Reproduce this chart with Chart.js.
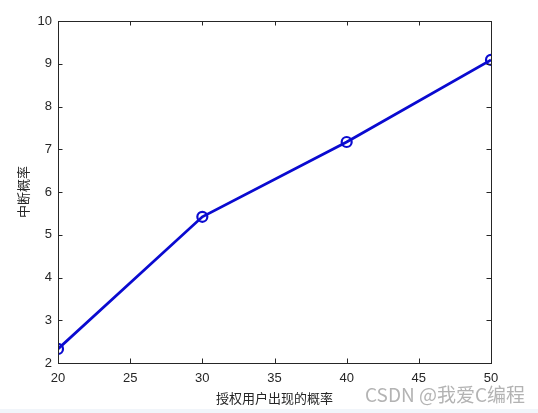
<!DOCTYPE html>
<html>
<head>
<meta charset="utf-8">
<script src="https://cdn.jsdelivr.net/npm/chart.js@4/dist/chart.umd.min.js"></script>
<style>
  html, body { margin: 0; padding: 0; background: #fff; }
  #wrap { width: 538px; height: 413px; position: relative; }
</style>
</head>
<body>
<div id="wrap"><canvas id="myChart"></canvas></div>
<script>
// data
const xValues = [20, 30, 40, 50];
const yValues = [2.33, 5.42, 7.17, 9.09];
const xTicks = [20, 25, 30, 35, 40, 45, 50];
const yTicks = [2, 3, 4, 5, 6, 7, 8, 9, 10];
const xTitle = '授权用户出现的概率';
const yTitle = '中断概率';
const watermark = 'CSDN @我爱C编程';

const tickFont = { family: "'Liberation Sans', Arial, sans-serif", size: 13 };
const cjkFont = "13px 'Noto Sans CJK SC', sans-serif";

// MATLAB-ish box with inward ticks on all four sides
const boxPlugin = {
  id: 'box',
  afterDraw(chart) {
    const { ctx, chartArea: a, scales } = chart;
    ctx.save();
    ctx.strokeStyle = '#262626';
    ctx.lineWidth = 1;
    ctx.strokeRect(Math.round(a.left) + 0.5, Math.round(a.top) + 0.5,
      Math.round(a.right - a.left), Math.round(a.bottom - a.top));
    ctx.beginPath();
    xTicks.forEach(v => {
      const x = Math.round(scales.x.getPixelForValue(v)) + 0.5;
      ctx.moveTo(x, a.bottom); ctx.lineTo(x, a.bottom - 4.5);
      ctx.moveTo(x, a.top); ctx.lineTo(x, a.top + 4.5);
    });
    yTicks.forEach(v => {
      const y = Math.round(scales.y.getPixelForValue(v)) + 0.5;
      ctx.moveTo(a.left, y); ctx.lineTo(a.left + 4.5, y);
      ctx.moveTo(a.right, y); ctx.lineTo(a.right - 4.5, y);
    });
    ctx.stroke();

    // axis titles
    ctx.fillStyle = '#262626';
    ctx.font = cjkFont;
    ctx.textAlign = 'center';
    ctx.textBaseline = 'middle';
    ctx.fillText(xTitle, (a.left + a.right) / 2, 398);
    ctx.translate(23, (a.top + a.bottom) / 2);
    ctx.rotate(-Math.PI / 2);
    ctx.fillText(yTitle, 0, 0);
    ctx.restore();

    // watermark + bottom strip
    ctx.save();
    ctx.fillStyle = '#f1f5fa';
    ctx.fillRect(0, 409, chart.width, 4);
    ctx.font = "19px 'Noto Sans CJK SC', sans-serif";
    ctx.fillStyle = 'rgba(160,160,160,0.8)';
    ctx.textAlign = 'left';
    ctx.textBaseline = 'middle';
    ctx.fillText(watermark, 365, 395);
    ctx.restore();
  }
};

const ctx = document.getElementById('myChart').getContext('2d');
const myChart = new Chart(ctx, {
  type: 'line',
  data: {
    datasets: [{
      data: xValues.map((x, i) => ({ x: x, y: yValues[i] })),
      borderColor: '#0a0ad0',
      borderWidth: 2.8,
      pointStyle: 'circle',
      pointRadius: 5,
      pointBorderWidth: 2.2,
      pointBorderColor: '#0a0ad0',
      pointBackgroundColor: 'rgba(0,0,0,0)',
      tension: 0,
      fill: false
    }]
  },
  options: {
    responsive: true,
    maintainAspectRatio: false,
    animation: false,
    layout: { padding: { top: 21, right: 47, left: 0, bottom: 0 } },
    plugins: { legend: { display: false }, tooltip: { enabled: false } },
    scales: {
      x: {
        type: 'linear',
        min: 20, max: 50,
        afterBuildTicks: s => { s.ticks = xTicks.map(v => ({ value: v })); },
        afterFit: s => { s.height = 50; },
        grid: { display: false, drawTicks: false },
        border: { display: false },
        ticks: { color: '#262626', font: tickFont, padding: 8, maxRotation: 0 }
      },
      y: {
        type: 'linear',
        min: 2, max: 10,
        afterBuildTicks: s => { s.ticks = yTicks.map(v => ({ value: v })); },
        afterFit: s => { s.width = 58; },
        grid: { display: false, drawTicks: false },
        border: { display: false },
        ticks: { color: '#262626', font: tickFont, padding: 6 }
      }
    }
  },
  plugins: [boxPlugin]
});
</script>
</body>
</html>
